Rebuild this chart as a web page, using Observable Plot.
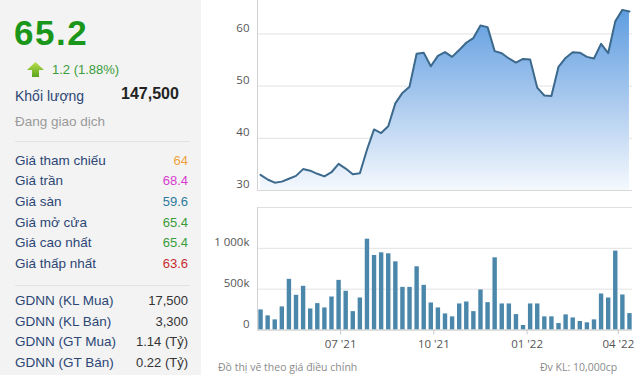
<!DOCTYPE html>
<html>
<head>
<meta charset="utf-8">
<script src="https://cdn.jsdelivr.net/npm/d3@7"></script>
<script src="https://cdn.jsdelivr.net/npm/@observablehq/plot@0.6"></script>
<style>
html, body { margin: 0; padding: 0; background: #fff; }
#wrap { position: relative; width: 640px; height: 375px; overflow: hidden; font-family: "Liberation Sans", Arial, sans-serif; }
#left { position: absolute; left: 0; top: 0; width: 201px; height: 375px; background: #f3f3f3; }
.t { position: absolute; white-space: nowrap; }
.row { position: absolute; left: 15px; width: 173px; height: 20px; line-height: 20px; display: flex; justify-content: space-between; white-space: nowrap; }
.row .lab { font-size: 13.5px; color: #2c4675; }
.row .val { font-size: 13px; }
.div { position: absolute; left: 15px; width: 175px; height: 1px; background: #e3e3e3; }
.foot { position: absolute; top: 360px; font-family: "Open Sans", sans-serif; font-size: 10.5px; line-height: 14px; color: #8a8a8a; white-space: nowrap; }
#price, #vol { position: absolute; left: 203px; }
</style>
</head>
<body>
<div id="wrap">
  <div id="left"></div>
  <div id="price" style="top:0px"></div>
  <div id="vol" style="top:195px"></div>
  <div class="foot" style="left:218px">Đồ thị vẽ theo giá điều chỉnh</div>
  <div class="foot" style="left:540px">Đv KL: 10,000cp</div>
</div>
<script>
// ---------- data ----------
const lastPrice = "65.2";
const change = "1.2 (1.88%)";
const volumeLabel = "Khối lượng";
const volumeToday = "147,500";
const status = "Đang giao dịch";

const priceLabels = ["Giá tham chiếu", "Giá trần", "Giá sàn", "Giá mở cửa", "Giá cao nhất", "Giá thấp nhất"];
const priceValues = ["64", "68.4", "59.6", "65.4", "65.4", "63.6"];
const priceColors = ["#f0a23c", "#d63bd0", "#2d7a9c", "#3a9c3a", "#3a9c3a", "#c62a30"];

const foreignLabels = ["GDNN (KL Mua)", "GDNN (KL Bán)", "GDNN (GT Mua)", "GDNN (GT Bán)"];
const foreignValues = ["17,500", "3,300", "1.14 (Tỷ)", "0.22 (Tỷ)"];

// weekly series, first week starting 2021-04-13
const firstWeek = "2021-04-13";
const weeklyClose = [33.0, 32.1, 31.5, 31.7, 32.25, 32.8, 34.1, 33.8, 33.2, 32.7,
  33.5, 35.1, 34.2, 33.1, 33.3, 37.8, 41.7, 41.0, 42.3, 46.7,
  48.7, 49.9, 56.2, 56.4, 53.8, 55.8, 56.5, 55.6, 56.9, 58.3,
  59.2, 61.6, 61.3, 56.7, 56.3, 55.3, 54.5, 55.2, 55.1, 49.7,
  48.2, 48.1, 53.7, 55.4, 56.5, 56.4, 55.6, 55.3, 58.1, 56.3,
  62.4, 64.6, 64.3];
const weeklyVolume = [246000, 173000, 124000, 283000, 620000, 425000, 535000, 258000, 323000, 270000,
  404000, 608000, 474000, 225000, 392000, 1112000, 912000, 945000, 933000, 835000,
  522000, 522000, 774000, 547000, 331000, 270000, 197000, 161000, 319000, 343000,
  225000, 490000, 335000, 884000, 319000, 319000, 189000, 55000, 319000, 319000,
  161000, 161000, 79000, 185000, 148000, 104000, 88000, 124000, 441000, 392000,
  966000, 429000, 201000];

const xDomainDates = ["2021-04-10", "2022-04-15"];
const priceDomain = [30, 66.4];
const priceTicks = [30, 40, 50, 60];
const volDomain = [0, 1500000];
const volTicks = [0, 500000, 1000000];
const volTickLabels = ["0", "500k", "1 000k"];
const dateTicks = ["2021-07-01", "2021-10-01", "2022-01-01", "2022-04-01"];
const dateTickLabels = ["07 '21", "10 '21", "01 '22", "04 '22"];

// ---------- left panel ----------
const left = document.getElementById("left");
function addText(html, css) {
  const d = document.createElement("div");
  d.className = "t";
  d.innerHTML = html;
  Object.assign(d.style, css);
  left.appendChild(d);
  return d;
}
addText(lastPrice, {left: "14px", top: "13px", fontSize: "35px", lineHeight: "40px", fontWeight: "bold", color: "#1a961a", letterSpacing: "1.5px"});
addText('<svg width="17" height="15" viewBox="0 0 17 15"><defs><linearGradient id="ag" x1="0" y1="0" x2="0" y2="1"><stop offset="0" stop-color="#b9df4a"/><stop offset="1" stop-color="#5aa51e"/></linearGradient></defs><polygon points="8.5,0 17,8 12,8 12,15 5,15 5,8 0,8" fill="url(#ag)"/></svg>',
  {left: "27px", top: "62px", lineHeight: "0"});
addText(change, {left: "52px", top: "61px", fontSize: "13px", lineHeight: "18px", color: "#3a9c3a"});
addText(volumeLabel, {left: "15px", top: "86px", fontSize: "14px", lineHeight: "20px", color: "#2c4675"});
addText(volumeToday, {left: "121px", top: "84px", fontSize: "16px", lineHeight: "20px", fontWeight: "bold", color: "#222"});
addText(status, {left: "15px", top: "112px", fontSize: "13.5px", lineHeight: "20px", color: "#9a9a9a"});

function addDivider(y) {
  const d = document.createElement("div");
  d.className = "div";
  d.style.top = y + "px";
  left.appendChild(d);
}
function addRow(label, value, color, centerY) {
  const r = document.createElement("div");
  r.className = "row";
  r.style.top = (centerY - 10) + "px";
  r.innerHTML = `<span class="lab">${label}</span><span class="val" style="color:${color}">${value}</span>`;
  left.appendChild(r);
}
addDivider(141);
const rowStep = 20.7;
priceLabels.forEach((l, i) => addRow(l, priceValues[i], priceColors[i], 160.5 + i * rowStep));
addDivider(285);
foreignLabels.forEach((l, i) => addRow(l, foreignValues[i], "#333", 301 + i * rowStep));

// ---------- charts ----------
const data = weeklyClose.map((p, i) => ({
  date: d3.utcDay.offset(new Date(firstWeek), 7 * i),
  price: p,
  vol: weeklyVolume[i]
}));
const xDomain = xDomainDates.map(d => new Date(d));
const tickDates = dateTicks.map(d => new Date(d));
const dateLabelMap = new Map(tickDates.map((d, i) => [+d, dateTickLabels[i]]));
const volLabelMap = new Map(volTicks.map((v, i) => [v, volTickLabels[i]]));

const axisStyle = {fontFamily: "'Open Sans', sans-serif", fontSize: "11.5px", background: "transparent", overflow: "visible"};

const priceChart = Plot.plot({
  width: 437, height: 191,
  marginLeft: 54, marginRight: 8, marginTop: 0, marginBottom: 1,
  style: axisStyle,
  x: {type: "utc", domain: xDomain, axis: null, label: null},
  y: {domain: priceDomain, axis: null, label: null},
  marks: [
    Plot.gridY(priceTicks, {stroke: "#e2e2e2", strokeOpacity: 1}),
    Plot.areaY(data, {x: "date", y1: priceDomain[0], y2: "price", fill: "url(#priceGrad)"}),
    Plot.line(data, {x: "date", y: "price", stroke: "#3d6a8c", strokeWidth: 2}),
    Plot.ruleX([xDomain[0]], {stroke: "#d2d2d2"}),
    Plot.ruleY([priceDomain[0]], {stroke: "#d8d8d8"}),
    Plot.axisY(priceTicks, {tickSize: 0, tickPadding: 8, dy: -6, fill: "#555", label: null, tickFormat: d => String(d)})
  ]
});
const defs = d3.select(priceChart).insert("defs", ":first-child");
const grad = defs.append("linearGradient").attr("id", "priceGrad")
  .attr("x1", 0).attr("y1", 0).attr("x2", 0).attr("y2", 1);
grad.append("stop").attr("offset", "0%").attr("stop-color", "#5e9de0");
grad.append("stop").attr("offset", "50%").attr("stop-color", "#a9c9ee");
grad.append("stop").attr("offset", "100%").attr("stop-color", "#f5f9fe");
document.getElementById("price").appendChild(priceChart);

const volChart = Plot.plot({
  width: 437, height: 180,
  marginLeft: 54, marginRight: 8, marginTop: 12, marginBottom: 45.5,
  style: axisStyle,
  x: {type: "utc", domain: xDomain, axis: null, label: null},
  y: {domain: volDomain, axis: null, label: null},
  marks: [
    Plot.gridY(volTicks, {stroke: "#e2e2e2", strokeOpacity: 1}),
    Plot.ruleY([volDomain[1]], {stroke: "#e0e0e0"}),
    Plot.ruleX(data, {x: "date", y1: 0, y2: "vol", stroke: "#4a87ab", strokeWidth: 4.4}),
    Plot.ruleX([xDomain[0]], {stroke: "#d2d2d2"}),
    Plot.ruleY([volDomain[0]], {stroke: "#cfcfcf"}),
    Plot.axisY(volTicks, {tickSize: 0, tickPadding: 8, dy: -6, fill: "#555", label: null, tickFormat: d => volLabelMap.get(d)}),
    Plot.axisX(tickDates, {tickSize: 5, tickPadding: 5, stroke: "#c8c8c8", fill: "#555", label: null, tickFormat: d => dateLabelMap.get(+d)})
  ]
});
document.getElementById("vol").appendChild(volChart);
</script>
</body>
</html>
